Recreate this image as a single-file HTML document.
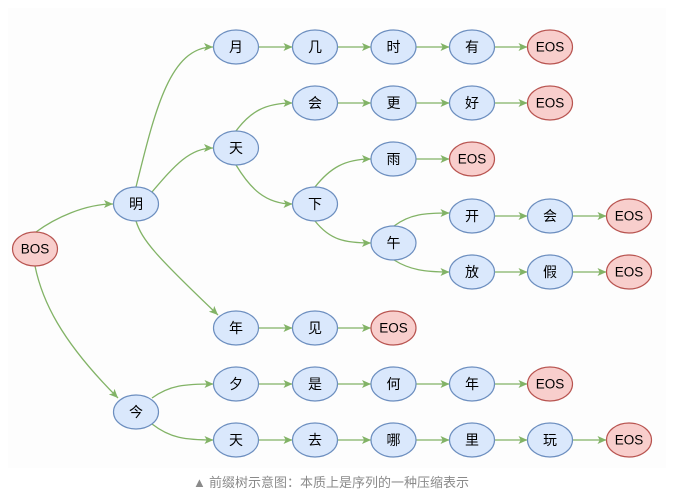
<!DOCTYPE html>
<html><head><meta charset="utf-8"><style>
html,body{margin:0;padding:0;background:#fff;}
svg{display:block;}
.n{fill:#dae8fc;stroke:#6c8ebf;stroke-width:1.2;}
.r{fill:#f8cecc;stroke:#b85450;stroke-width:1.2;}
.e{fill:none;stroke:#82b366;stroke-width:1.3;marker-end:url(#a);}
text{font-family:"Liberation Sans","Noto Sans CJK SC",sans-serif;font-size:14px;fill:#000;text-anchor:middle;dominant-baseline:central;}
text.t{font-size:13.5px;}
.cap{font-size:13px;fill:#8a8a8a;text-anchor:start;}
</style></head><body>
<svg width="680" height="496" viewBox="0 0 680 496" xmlns="http://www.w3.org/2000/svg">
<defs>
<marker id="a" markerWidth="10" markerHeight="8" refX="9" refY="4" orient="auto" markerUnits="userSpaceOnUse">
<path d="M0,0 L9,4 L0,8 L2.2,4 z" fill="#82b366"/>
</marker>
</defs>
<rect x="0" y="0" width="680" height="496" fill="#fff"/>
<rect x="8" y="8" width="658" height="460" fill="#fdfdfd"/>

<!-- curved edges -->
<path class="e" d="M36,232 C55,218 85,204 113,204"/>
<path class="e" d="M136,187 C155,110 170,47 213,47"/>
<path class="e" d="M152,192 C175,165 190,148 213,148"/>
<path class="e" d="M136,221 C142,240 155,255 218,315"/>
<path class="e" d="M35,266 C42,300 60,340 118,398"/>
<path class="e" d="M236,131 C250,112 265,103 292.5,103"/>
<path class="e" d="M236,165 C250,188 265,204 292.5,204"/>
<path class="e" d="M315,187 C330,168 345,159 371,159"/>
<path class="e" d="M315,221 C330,240 345,243 371,243"/>
<path class="e" d="M394,226 C410,214 425,213 449.5,213"/>
<path class="e" d="M394,260 C410,270 425,272 449.5,272"/>
<path class="e" d="M152,398 C170,385 185,384 213.5,384"/>
<path class="e" d="M152,424 C170,438 185,440 213.5,440"/>

<!-- straight edges -->
<path class="e" d="M258.5,47 H292.5"/>
<path class="e" d="M337.5,47 H371"/>
<path class="e" d="M416,47 H449.5"/>
<path class="e" d="M494.5,47 H527.5"/>

<path class="e" d="M337.5,103 H371"/>
<path class="e" d="M416,103 H449.5"/>
<path class="e" d="M494.5,103 H527.5"/>

<path class="e" d="M416,159 H449.5"/>

<path class="e" d="M494.5,216 H527.5"/>
<path class="e" d="M572.5,216 H606.5"/>
<path class="e" d="M494.5,272 H527.5"/>
<path class="e" d="M572.5,272 H606.5"/>

<path class="e" d="M258.5,328 H292.5"/>
<path class="e" d="M337.5,328 H371"/>

<path class="e" d="M258.5,384 H292.5"/>
<path class="e" d="M337.5,384 H371"/>
<path class="e" d="M416,384 H449.5"/>
<path class="e" d="M494.5,384 H527.5"/>

<path class="e" d="M258.5,440 H292.5"/>
<path class="e" d="M337.5,440 H371"/>
<path class="e" d="M416,440 H449.5"/>
<path class="e" d="M494.5,440 H527.5"/>
<path class="e" d="M572.5,440 H606.5"/>

<!-- nodes -->
<ellipse class="r" cx="35" cy="249" rx="22.5" ry="17"/><text class="t" x="35" y="249">BOS</text>
<ellipse class="n" cx="136" cy="204" rx="22.5" ry="17"/><text x="136" y="204">明</text>
<ellipse class="n" cx="136" cy="412" rx="22.5" ry="17"/><text x="136" y="412">今</text>

<ellipse class="n" cx="236" cy="47" rx="22.5" ry="17"/><text x="236" y="47">月</text>
<ellipse class="n" cx="315" cy="47" rx="22.5" ry="17"/><text x="315" y="47">几</text>
<ellipse class="n" cx="393.5" cy="47" rx="22.5" ry="17"/><text x="393.5" y="47">时</text>
<ellipse class="n" cx="472" cy="47" rx="22.5" ry="17"/><text x="472" y="47">有</text>
<ellipse class="r" cx="550" cy="47" rx="22.5" ry="17"/><text class="t" x="550" y="47">EOS</text>

<ellipse class="n" cx="315" cy="103" rx="22.5" ry="17"/><text x="315" y="103">会</text>
<ellipse class="n" cx="393.5" cy="103" rx="22.5" ry="17"/><text x="393.5" y="103">更</text>
<ellipse class="n" cx="472" cy="103" rx="22.5" ry="17"/><text x="472" y="103">好</text>
<ellipse class="r" cx="550" cy="103" rx="22.5" ry="17"/><text class="t" x="550" y="103">EOS</text>

<ellipse class="n" cx="236" cy="148" rx="22.5" ry="17"/><text x="236" y="148">天</text>

<ellipse class="n" cx="393.5" cy="159" rx="22.5" ry="17"/><text x="393.5" y="159">雨</text>
<ellipse class="r" cx="472" cy="159" rx="22.5" ry="17"/><text class="t" x="472" y="159">EOS</text>

<ellipse class="n" cx="315" cy="204" rx="22.5" ry="17"/><text x="315" y="204">下</text>

<ellipse class="n" cx="472" cy="216" rx="22.5" ry="17"/><text x="472" y="216">开</text>
<ellipse class="n" cx="550" cy="216" rx="22.5" ry="17"/><text x="550" y="216">会</text>
<ellipse class="r" cx="629" cy="216" rx="22.5" ry="17"/><text class="t" x="629" y="216">EOS</text>

<ellipse class="n" cx="393.5" cy="243" rx="22.5" ry="17"/><text x="393.5" y="243">午</text>

<ellipse class="n" cx="472" cy="272" rx="22.5" ry="17"/><text x="472" y="272">放</text>
<ellipse class="n" cx="550" cy="272" rx="22.5" ry="17"/><text x="550" y="272">假</text>
<ellipse class="r" cx="629" cy="272" rx="22.5" ry="17"/><text class="t" x="629" y="272">EOS</text>

<ellipse class="n" cx="236" cy="328" rx="22.5" ry="17"/><text x="236" y="328">年</text>
<ellipse class="n" cx="315" cy="328" rx="22.5" ry="17"/><text x="315" y="328">见</text>
<ellipse class="r" cx="393.5" cy="328" rx="22.5" ry="17"/><text class="t" x="393.5" y="328">EOS</text>

<ellipse class="n" cx="236" cy="384" rx="22.5" ry="17"/><text x="236" y="384">夕</text>
<ellipse class="n" cx="315" cy="384" rx="22.5" ry="17"/><text x="315" y="384">是</text>
<ellipse class="n" cx="393.5" cy="384" rx="22.5" ry="17"/><text x="393.5" y="384">何</text>
<ellipse class="n" cx="472" cy="384" rx="22.5" ry="17"/><text x="472" y="384">年</text>
<ellipse class="r" cx="550" cy="384" rx="22.5" ry="17"/><text class="t" x="550" y="384">EOS</text>

<ellipse class="n" cx="236" cy="440" rx="22.5" ry="17"/><text x="236" y="440">天</text>
<ellipse class="n" cx="315" cy="440" rx="22.5" ry="17"/><text x="315" y="440">去</text>
<ellipse class="n" cx="393.5" cy="440" rx="22.5" ry="17"/><text x="393.5" y="440">哪</text>
<ellipse class="n" cx="472" cy="440" rx="22.5" ry="17"/><text x="472" y="440">里</text>
<ellipse class="n" cx="550" cy="440" rx="22.5" ry="17"/><text x="550" y="440">玩</text>
<ellipse class="r" cx="629" cy="440" rx="22.5" ry="17"/><text class="t" x="629" y="440">EOS</text>

<!-- caption -->
<text class="cap" x="193" y="482"><tspan font-size="13">▲</tspan><tspan x="209">前缀树示意图：本质上是序列的一种压缩表示</tspan></text>
</svg>
</body></html>
